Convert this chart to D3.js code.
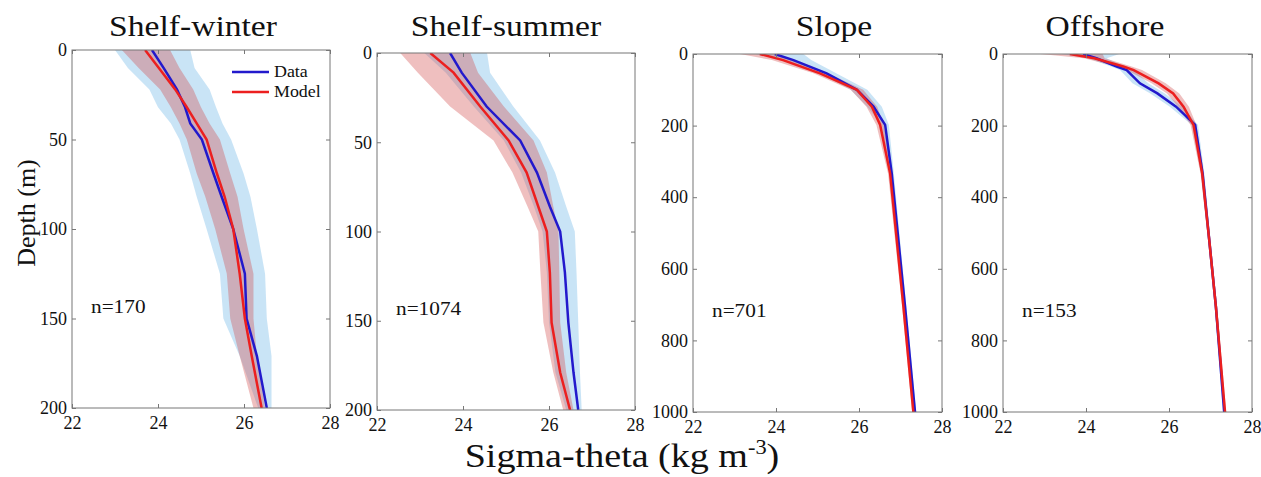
<!DOCTYPE html>
<html>
<head>
<meta charset="utf-8">
<script src="https://cdn.jsdelivr.net/npm/d3@7"></script>
<style>
  body { margin: 0; background: #fff; }
  svg text { font-family: "Liberation Serif", "Times New Roman", serif; fill: #111; }
  .frame { fill: none; stroke: #777; stroke-width: 1; }
  .axis path { display: none; }
  .axis line { stroke: #777; }
</style>
</head>
<body>
<svg id="chart" width="1261" height="477"></svg>
<script>
// Density profiles: observed (Data) vs modelled (Model), mean +/- spread

const xTicks = [22, 24, 26, 28];
const shelfDepthTicks = [0, 50, 100, 150, 200];
const deepDepthTicks = [0, 200, 400, 600, 800, 1000];

// Shelf-winter
const winterDepth = [0, 10, 22, 32, 41, 50, 69, 82, 100, 125, 150, 171, 200];
const winterData = [23.86, 24.13, 24.44, 24.63, 24.75, 25.02, 25.29, 25.48, 25.75, 26.02, 26.06, 26.30, 26.53];
const winterModel = [23.70, 24.02, 24.40, 24.67, 24.90, 25.13, 25.37, 25.55, 25.75, 25.90, 26.02, 26.18, 26.41];
const winterDataLo = [23.00, 23.30, 23.80, 24.00, 24.30, 24.50, 24.75, 24.90, 25.13, 25.44, 25.52, 25.90, 26.33];
const winterDataHi = [24.75, 24.85, 25.20, 25.35, 25.50, 25.70, 25.99, 26.15, 26.30, 26.49, 26.53, 26.64, 26.64];
const winterModelLo = [23.16, 23.55, 24.05, 24.30, 24.50, 24.67, 24.90, 25.10, 25.33, 25.60, 25.68, 25.90, 26.22];
const winterModelHi = [24.28, 24.50, 24.82, 25.00, 25.20, 25.44, 25.68, 25.85, 25.99, 26.22, 26.22, 26.30, 26.49];

// Shelf-summer
const summerDepth = [0, 11, 30, 49, 67, 86, 100, 123, 151, 179, 200];
const summerData = [23.70, 23.97, 24.55, 25.33, 25.72, 26.02, 26.26, 26.37, 26.45, 26.57, 26.68];
const summerModel = [23.24, 23.78, 24.40, 25.06, 25.48, 25.75, 25.95, 26.02, 26.06, 26.26, 26.49];
const summerDataLo = [23.10, 23.60, 24.25, 24.95, 25.35, 25.65, 25.85, 25.95, 26.00, 26.15, 26.40];
const summerDataHi = [24.56, 24.63, 25.17, 25.79, 26.14, 26.40, 26.60, 26.64, 26.68, 26.72, 26.76];
const summerModelLo = [22.54, 22.95, 23.70, 24.71, 25.15, 25.50, 25.75, 25.80, 25.87, 26.10, 26.33];
const summerModelHi = [24.17, 24.35, 24.95, 25.64, 25.95, 26.10, 26.22, 26.24, 26.26, 26.40, 26.57];

// Slope
const slopeDepth = [0, 17, 54, 100, 147, 198, 334, 520, 706, 1000];
const slopeData = [23.97, 24.42, 25.22, 25.95, 26.35, 26.63, 26.79, 26.95, 27.11, 27.35];
const slopeModel = [23.61, 24.17, 25.06, 25.95, 26.31, 26.51, 26.75, 26.91, 27.07, 27.31];
const slopeDataLo = [23.50, 24.15, 25.05, 25.80, 26.20, 26.55, 26.74, 26.91, 27.08, 27.32];
const slopeDataHi = [24.66, 24.85, 25.45, 26.20, 26.55, 26.72, 26.84, 26.99, 27.14, 27.38];
const slopeModelLo = [23.13, 23.90, 24.90, 25.80, 26.18, 26.42, 26.70, 26.87, 27.04, 27.28];
const slopeModelHi = [24.00, 24.40, 25.25, 26.10, 26.44, 26.60, 26.80, 26.95, 27.10, 27.34];

// Offshore
const offshoreDepth = [0, 12, 35, 45, 82, 110, 147, 198, 334, 520, 706, 1000];
const offshoreData = [23.93, 24.25, 24.74, 24.98, 25.30, 25.72, 26.17, 26.63, 26.81, 26.97, 27.13, 27.33];
const offshoreModel = [23.61, 24.20, 24.90, 25.15, 25.75, 26.10, 26.35, 26.59, 26.80, 26.97, 27.13, 27.35];
const offshoreDataLo = [23.40, 24.05, 24.60, 24.82, 25.12, 25.55, 26.02, 26.55, 26.77, 26.94, 27.10, 27.30];
const offshoreDataHi = [24.80, 24.50, 24.92, 25.15, 25.50, 25.90, 26.32, 26.70, 26.85, 27.00, 27.16, 27.36];
const offshoreModelLo = [22.90, 23.95, 24.72, 24.98, 25.58, 25.95, 26.22, 26.52, 26.76, 26.94, 27.10, 27.32];
const offshoreModelHi = [24.40, 24.45, 25.10, 25.35, 25.92, 26.25, 26.48, 26.66, 26.84, 27.00, 27.16, 27.38];

const titles = ['Shelf-winter', 'Shelf-summer', 'Slope', 'Offshore'];
const counts = ['n=170', 'n=1074', 'n=701', 'n=153'];

const COLORS = {
  data: '#2219cc',
  model: '#ec1f1f',
  dataBand: '#9ccdee',
  modelBand: '#d24848'
};

// the source figure is a bit stretched sideways, so text gets widened too
const TEXT_STRETCH = 1.12;

document.addEventListener('DOMContentLoaded', function() {
  drawChart();
});

function buildProfile(depth, mean, lo, hi) {
  return depth.map((d, i) => ({ depth: d, mean: mean[i], lo: lo[i], hi: hi[i] }));
}

function stretchedText(parent, x, y, size, anchor) {
  return parent.append('g')
    .attr('transform', `translate(${x},${y}) scale(${TEXT_STRETCH},1)`)
    .append('text')
    .attr('text-anchor', anchor || 'start')
    .attr('font-size', size);
}

function drawChart() {
  const svg = d3.select('#chart');

  // panel boxes in pixels (layout only)
  const panels = [
    { left: 72, right: 330, top: 50, bottom: 408, maxDepth: 200, depthTicks: shelfDepthTicks, titleX: 193,
      data: buildProfile(winterDepth, winterData, winterDataLo, winterDataHi),
      model: buildProfile(winterDepth, winterModel, winterModelLo, winterModelHi) },
    { left: 377, right: 635, top: 53, bottom: 410, maxDepth: 200, depthTicks: shelfDepthTicks, titleX: 506,
      data: buildProfile(summerDepth, summerData, summerDataLo, summerDataHi),
      model: buildProfile(summerDepth, summerModel, summerModelLo, summerModelHi) },
    { left: 693, right: 942, top: 54, bottom: 412, maxDepth: 1000, depthTicks: deepDepthTicks, titleX: 834,
      data: buildProfile(slopeDepth, slopeData, slopeDataLo, slopeDataHi),
      model: buildProfile(slopeDepth, slopeModel, slopeModelLo, slopeModelHi) },
    { left: 1003, right: 1252, top: 54, bottom: 412, maxDepth: 1000, depthTicks: deepDepthTicks, titleX: 1105,
      data: buildProfile(offshoreDepth, offshoreData, offshoreDataLo, offshoreDataHi),
      model: buildProfile(offshoreDepth, offshoreModel, offshoreModelLo, offshoreModelHi) }
  ];

  panels.forEach((p, i) => drawPanel(svg, p, i));

  // Legend in the first panel
  const legend = svg.append('g').attr('transform', 'translate(232,72)');
  [['Data', COLORS.data], ['Model', COLORS.model]].forEach(([label, color], i) => {
    const g = legend.append('g').attr('transform', `translate(0,${i * 20})`);
    g.append('line').attr('x1', 0).attr('x2', 37).attr('y1', 0).attr('y2', 0)
      .attr('stroke', color).attr('stroke-width', 2.5);
    stretchedText(g, 42, 5, 16).text(label);
  });

  // Shared axis labels
  svg.append('text')
    .attr('transform', 'translate(35,213) rotate(-90)')
    .attr('text-anchor', 'middle')
    .attr('font-size', 26)
    .text('Depth (m)');

  const xLabel = stretchedText(svg, 622, 467, 34, 'middle');
  xLabel.append('tspan').text('Sigma-theta (kg m');
  xLabel.append('tspan').attr('font-size', 20).attr('dy', -13).text('-3');
  xLabel.append('tspan').attr('dy', 13).text(')');
}

function drawPanel(svg, p, idx) {
  const x = d3.scaleLinear().domain([22, 28]).range([p.left, p.right]);
  const y = d3.scaleLinear().domain([0, p.maxDepth]).range([p.top, p.bottom]);
  const g = svg.append('g');

  const clipId = 'clip' + idx;
  g.append('clipPath').attr('id', clipId).append('rect')
    .attr('x', p.left).attr('y', p.top)
    .attr('width', p.right - p.left).attr('height', p.bottom - p.top);

  const plot = g.append('g').attr('clip-path', `url(#${clipId})`);

  const band = d3.area()
    .y(d => y(d.depth))
    .x0(d => x(d.lo))
    .x1(d => x(d.hi));
  const line = d3.line()
    .x(d => x(d.mean))
    .y(d => y(d.depth));

  // shading: observed spread first, model spread on top
  plot.append('path').attr('d', band(p.data))
    .attr('fill', COLORS.dataBand).attr('fill-opacity', 0.55);
  plot.append('path').attr('d', band(p.model))
    .attr('fill', COLORS.modelBand).attr('fill-opacity', 0.35);

  plot.append('path').attr('d', line(p.data))
    .attr('fill', 'none').attr('stroke', COLORS.data).attr('stroke-width', 2.5);
  plot.append('path').attr('d', line(p.model))
    .attr('fill', 'none').attr('stroke', COLORS.model).attr('stroke-width', 2.5);

  // Axes, ticks pointing inward on all four sides
  const fmt = d3.format('d');
  g.append('g').attr('class', 'axis')
    .attr('transform', `translate(0,${p.bottom})`)
    .call(d3.axisBottom(x).tickValues(xTicks).tickFormat(fmt).tickSizeInner(-4).tickSizeOuter(0).tickPadding(8))
    .call(a => a.attr('font-family', null).selectAll('text').attr('font-size', 18));
  g.append('g').attr('class', 'axis')
    .attr('transform', `translate(0,${p.top})`)
    .call(d3.axisTop(x).tickValues(xTicks).tickSizeInner(-4).tickSizeOuter(0).tickFormat(''));
  g.append('g').attr('class', 'axis')
    .attr('transform', `translate(${p.left},0)`)
    .call(d3.axisLeft(y).tickValues(p.depthTicks).tickFormat(fmt).tickSizeInner(-4).tickSizeOuter(0).tickPadding(5))
    .call(a => a.attr('font-family', null).selectAll('text').attr('font-size', 18));
  g.append('g').attr('class', 'axis')
    .attr('transform', `translate(${p.right},0)`)
    .call(d3.axisRight(y).tickValues(p.depthTicks).tickSizeInner(-4).tickSizeOuter(0).tickFormat(''));

  g.append('rect').attr('class', 'frame')
    .attr('x', p.left).attr('y', p.top)
    .attr('width', p.right - p.left).attr('height', p.bottom - p.top);

  // Title and sample count
  stretchedText(svg, p.titleX, 36, 30, 'middle').text(titles[idx]);
  stretchedText(svg, p.left + 19, p.top + 0.735 * (p.bottom - p.top), 19).text(counts[idx]);
}
</script>
</body>
</html>
